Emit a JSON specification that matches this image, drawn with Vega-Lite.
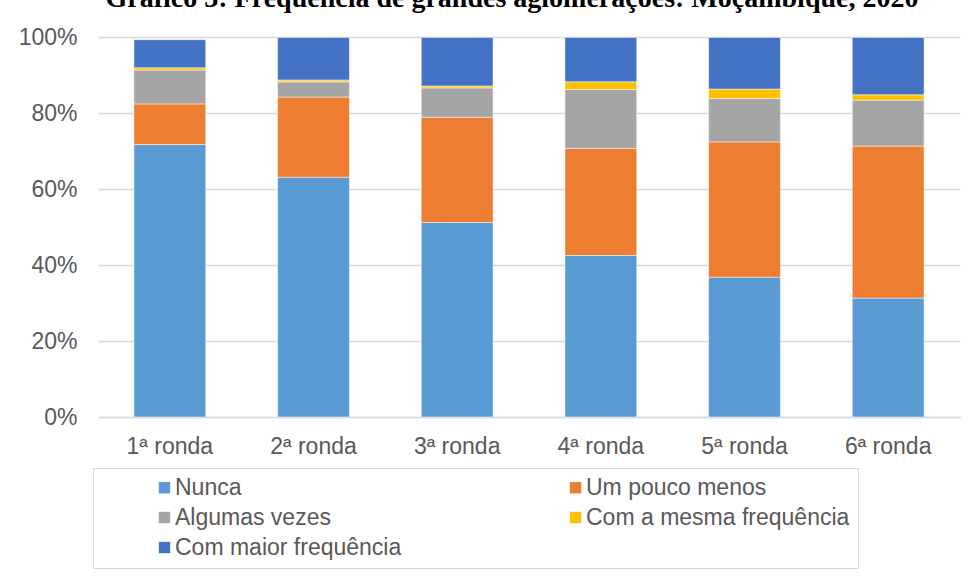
{
  "$schema": "https://vega.github.io/schema/vega-lite/v6.json",
  "width": 862,
  "height": 380,
  "autosize": {"type": "none"},
  "padding": {"left": 98, "top": 37, "right": 12, "bottom": 160},
  "background": "white",
  "title": {
    "text": "Gráfico 3: Frequência de grandes aglomerações: Moçambique, 2020",
    "font": "Liberation Serif",
    "fontSize": 28,
    "fontWeight": "bold",
    "color": "#000000",
    "anchor": "middle",
    "dx": -17,
    "dy": 31,
    "baseline": "alphabetic",
    "offset": 22
  },
  "data": {
    "values": [
      {"ronda": "1ª ronda", "resposta": "Nunca", "ordem": 1, "valor": 71.7},
      {"ronda": "1ª ronda", "resposta": "Um pouco menos", "ordem": 2, "valor": 10.7},
      {"ronda": "1ª ronda", "resposta": "Algumas vezes", "ordem": 3, "valor": 8.9},
      {"ronda": "1ª ronda", "resposta": "Com a mesma frequência", "ordem": 4, "valor": 0.6},
      {"ronda": "1ª ronda", "resposta": "Com maior frequência", "ordem": 5, "valor": 7.4},
      {"ronda": "2ª ronda", "resposta": "Nunca", "ordem": 1, "valor": 63.1},
      {"ronda": "2ª ronda", "resposta": "Um pouco menos", "ordem": 2, "valor": 21.1},
      {"ronda": "2ª ronda", "resposta": "Algumas vezes", "ordem": 3, "valor": 4.0},
      {"ronda": "2ª ronda", "resposta": "Com a mesma frequência", "ordem": 4, "valor": 0.5},
      {"ronda": "2ª ronda", "resposta": "Com maior frequência", "ordem": 5, "valor": 11.2},
      {"ronda": "3ª ronda", "resposta": "Nunca", "ordem": 1, "valor": 51.2},
      {"ronda": "3ª ronda", "resposta": "Um pouco menos", "ordem": 2, "valor": 27.7},
      {"ronda": "3ª ronda", "resposta": "Algumas vezes", "ordem": 3, "valor": 7.7},
      {"ronda": "3ª ronda", "resposta": "Com a mesma frequência", "ordem": 4, "valor": 0.5},
      {"ronda": "3ª ronda", "resposta": "Com maior frequência", "ordem": 5, "valor": 12.8},
      {"ronda": "4ª ronda", "resposta": "Nunca", "ordem": 1, "valor": 42.5},
      {"ronda": "4ª ronda", "resposta": "Um pouco menos", "ordem": 2, "valor": 28.2},
      {"ronda": "4ª ronda", "resposta": "Algumas vezes", "ordem": 3, "valor": 15.5},
      {"ronda": "4ª ronda", "resposta": "Com a mesma frequência", "ordem": 4, "valor": 2.0},
      {"ronda": "4ª ronda", "resposta": "Com maior frequência", "ordem": 5, "valor": 11.7},
      {"ronda": "5ª ronda", "resposta": "Nunca", "ordem": 1, "valor": 36.8},
      {"ronda": "5ª ronda", "resposta": "Um pouco menos", "ordem": 2, "valor": 35.6},
      {"ronda": "5ª ronda", "resposta": "Algumas vezes", "ordem": 3, "valor": 11.4},
      {"ronda": "5ª ronda", "resposta": "Com a mesma frequência", "ordem": 4, "valor": 2.5},
      {"ronda": "5ª ronda", "resposta": "Com maior frequência", "ordem": 5, "valor": 13.6},
      {"ronda": "6ª ronda", "resposta": "Nunca", "ordem": 1, "valor": 31.3},
      {"ronda": "6ª ronda", "resposta": "Um pouco menos", "ordem": 2, "valor": 40.0},
      {"ronda": "6ª ronda", "resposta": "Algumas vezes", "ordem": 3, "valor": 12.1},
      {"ronda": "6ª ronda", "resposta": "Com a mesma frequência", "ordem": 4, "valor": 1.4},
      {"ronda": "6ª ronda", "resposta": "Com maior frequência", "ordem": 5, "valor": 15.1}
    ]
  },
  "mark": {"type": "bar", "stroke": "white", "strokeWidth": 0.5},
  "encoding": {
    "x": {
      "field": "ronda",
      "type": "nominal",
      "sort": null,
      "scale": {"paddingInner": 0.5, "paddingOuter": 0.25},
      "axis": {
        "title": null,
        "labelAngle": 0,
        "labelFont": "Liberation Sans",
        "labelFontSize": 23,
        "labelColor": "#595959",
        "domainColor": "#d9d9d9",
        "domainWidth": 1.5,
        "ticks": false,
        "labelPadding": 18
      }
    },
    "y": {
      "field": "valor",
      "type": "quantitative",
      "stack": "zero",
      "scale": {"domain": [0, 100]},
      "axis": {
        "title": null,
        "values": [0, 20, 40, 60, 80, 100],
        "labelExpr": "datum.value + '%'",
        "labelFont": "Liberation Sans",
        "labelFontSize": 23,
        "labelColor": "#595959",
        "domain": false,
        "ticks": false,
        "gridColor": "#d9d9d9",
        "gridWidth": 1.5,
        "labelPadding": 21
      }
    },
    "order": {"field": "ordem", "type": "quantitative", "sort": "ascending"},
    "color": {
      "field": "resposta",
      "type": "nominal",
      "scale": {
        "domain": ["Nunca", "Um pouco menos", "Algumas vezes", "Com a mesma frequência", "Com maior frequência"],
        "range": ["#5B9BD5", "#ED7D31", "#A5A5A5", "#FFC000", "#4472C4"]
      },
      "legend": {
        "title": null,
        "orient": "none",
        "legendX": -5,
        "legendY": 431,
        "direction": "horizontal",
        "columns": 2,
        "symbolType": "square",
        "symbolSize": 130,
        "symbolStrokeWidth": 0,
        "symbolOffset": 52,
        "labelOffset": -1,
        "labelFont": "Liberation Sans",
        "labelFontSize": 23,
        "labelColor": "#595959",
        "labelLimit": 0,
        "strokeColor": "#d9d9d9",
        "padding": 8,
        "columnPadding": 110,
        "rowPadding": 6
      }
    }
  },
  "config": {"view": {"stroke": null}}
}
